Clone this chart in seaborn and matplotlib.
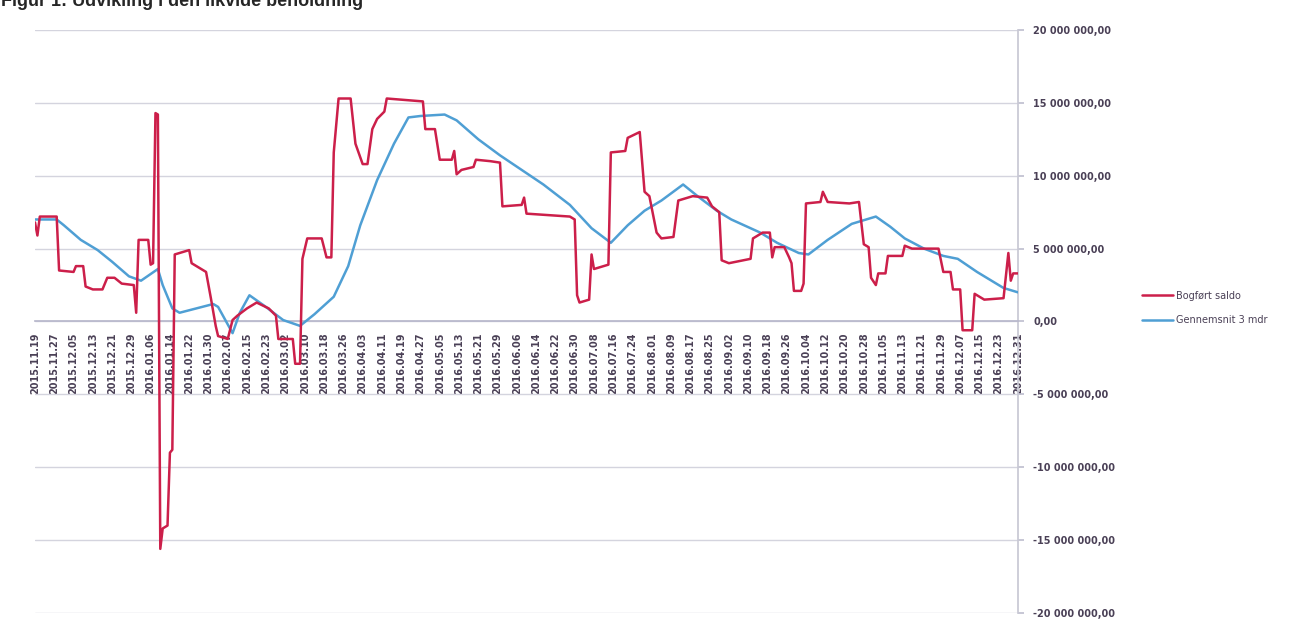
import matplotlib
matplotlib.use("Agg")
import matplotlib.pyplot as plt
import seaborn as sns
import pandas as pd
from matplotlib.ticker import FuncFormatter, MultipleLocator

# category labels on the x axis (every 8th day)
tick_labels = [
    "2015.11.19", "2015.11.27", "2015.12.05", "2015.12.13", "2015.12.21", "2015.12.29",
    "2016.01.06", "2016.01.14", "2016.01.22", "2016.01.30", "2016.02.07", "2016.02.15",
    "2016.02.23", "2016.03.02", "2016.03.10", "2016.03.18", "2016.03.26", "2016.04.03",
    "2016.04.11", "2016.04.19", "2016.04.27", "2016.05.05", "2016.05.13", "2016.05.21",
    "2016.05.29", "2016.06.06", "2016.06.14", "2016.06.22", "2016.06.30", "2016.07.08",
    "2016.07.16", "2016.07.24", "2016.08.01", "2016.08.09", "2016.08.17", "2016.08.25",
    "2016.09.02", "2016.09.10", "2016.09.18", "2016.09.26", "2016.10.04", "2016.10.12",
    "2016.10.20", "2016.10.28", "2016.11.05", "2016.11.13", "2016.11.21", "2016.11.29",
    "2016.12.07", "2016.12.15", "2016.12.23", "2016.12.31",
]

# Bogført saldo: day number since 2015.11.19 and value in mio. kr
saldo_days = [0, 1, 2, 9, 10, 16, 17, 20, 21, 24, 28, 30, 33, 36, 41, 42, 43, 47, 48, 49,
              50, 51, 52, 53, 55, 56, 57, 58, 64, 65, 68, 71, 73, 75, 76, 80, 82, 84, 88, 92,
              97, 100, 101, 107, 108, 110, 111, 113, 119, 121, 123, 124, 126, 131, 133, 136, 138, 140, 142, 145,
              146, 161, 162, 166, 168, 173, 174, 175, 177, 182, 183, 189, 193, 194, 202, 203, 204, 222, 224, 225,
              226, 230, 231, 232, 238, 239, 245, 246, 251, 253, 255, 258, 260, 265, 267, 273, 279, 281, 284, 285,
              288, 297, 298, 302, 305, 306, 307, 311, 313, 314, 315, 318, 319, 320, 326, 327, 329, 338, 342, 344,
              346, 347, 349, 350, 353, 354, 360, 361, 364, 375, 377, 380, 381, 384, 385, 389, 390, 394, 402, 404,
              405, 406, 408]
saldo_mio = [6.8, 5.9, 7.2, 7.2, 3.5, 3.4, 3.8, 3.8, 2.4, 2.2, 2.2, 3.0, 3.0, 2.6, 2.5, 0.6, 5.6, 5.6, 3.9, 4.0,
             14.3, 14.2, -15.6, -14.2, -14.0, -9.0, -8.8, 4.6, 4.9, 4.0, 3.7, 3.4, 1.6, -0.3, -1.0, -1.2, 0.1, 0.4, 0.9, 1.3,
             0.9, 0.4, -1.2, -1.2, -2.9, -2.9, 4.3, 5.7, 5.7, 4.4, 4.4, 11.6, 15.3, 15.3, 12.2, 10.8, 10.8, 13.2, 13.9, 14.4,
             15.3, 15.1, 13.2, 13.2, 11.1, 11.1, 11.7, 10.1, 10.4, 10.6, 11.1, 11.0, 10.9, 7.9, 8.0, 8.5, 7.4, 7.2, 7.0, 1.8,
             1.3, 1.5, 4.6, 3.6, 3.9, 11.6, 11.7, 12.6, 13.0, 8.9, 8.6, 6.1, 5.7, 5.8, 8.3, 8.6, 8.5, 7.9, 7.5, 4.2,
             4.0, 4.3, 5.7, 6.1, 6.1, 4.4, 5.1, 5.1, 4.4, 4.0, 2.1, 2.1, 2.6, 8.1, 8.2, 8.9, 8.2, 8.1, 8.2, 5.3,
             5.1, 3.0, 2.5, 3.3, 3.3, 4.5, 4.5, 5.2, 5.0, 5.0, 3.4, 3.4, 2.2, 2.2, -0.6, -0.6, 1.9, 1.5, 1.6, 4.7,
             2.8, 3.3, 3.3]

# Gennemsnit 3 mdr
snit_days = [0, 9, 12, 19, 26, 32, 39, 44, 51, 53, 57, 60, 67, 74, 76, 82, 85, 89, 95, 103,
             110, 116, 124, 130, 135, 142, 149, 155, 160, 170, 175, 184, 193, 202, 211, 222, 231, 239, 246, 253,
             260, 269, 275, 283, 289, 301, 308, 317, 321, 329, 339, 349, 355, 361, 369, 377, 383, 391, 402, 408]
snit_mio = [7.0, 7.0, 6.6, 5.6, 4.9, 4.1, 3.1, 2.8, 3.6, 2.5, 0.9, 0.6, 0.9, 1.2, 1.0, -0.8, 0.6, 1.8, 1.1, 0.1,
            -0.3, 0.5, 1.7, 3.8, 6.6, 9.7, 12.2, 14.0, 14.1, 14.2, 13.8, 12.5, 11.4, 10.4, 9.4, 8.0, 6.4, 5.4, 6.6, 7.6,
            8.3, 9.4, 8.6, 7.6, 7.0, 6.1, 5.4, 4.7, 4.6, 5.6, 6.7, 7.2, 6.5, 5.7, 5.0, 4.5, 4.3, 3.4, 2.3, 2.0]

red = "#cc1f4a"
blue = "#4f9fd4"
txt = "#4a4056"


def kr(v, pos):
    s = "{:,.2f}".format(v)
    return s.replace(",", " ").replace(".", ",")


sns.set_theme(style="white")
plt.rcParams['font.family'] = ['DejaVu Sans']

fig = plt.figure(figsize=(12.89, 6.29), dpi=100)
ax = fig.add_axes([35 / 1289, 1 - 613 / 629, (1018 - 35) / 1289, (613 - 30) / 629])

saldo = pd.DataFrame({"dag": saldo_days, "kr": [v * 1e6 for v in saldo_mio]})
snit = pd.DataFrame({"dag": snit_days, "kr": [v * 1e6 for v in snit_mio]})

sns.lineplot(data=saldo, x="dag", y="kr", estimator=None, sort=False, color=red,
             linewidth=1.8, ax=ax, label="Bogført saldo", zorder=4)
sns.lineplot(data=snit, x="dag", y="kr", estimator=None, sort=False, color=blue,
             linewidth=1.8, ax=ax, label="Gennemsnit 3 mdr", zorder=3)

# x axis crosses at zero - set this before the tick labels, it resets the ticks
ax.spines["bottom"].set_position(("data", 0))
ax.spines["bottom"].set_color("#b8b8cc")
ax.spines["right"].set_color("#c8c8d4")
ax.spines["left"].set_visible(False)
ax.spines["top"].set_visible(False)

ax.set_xlim(0, 408)
ax.set_ylim(-20e6, 20e6)
ax.set_xticks(range(0, 409, 8))
ax.set_xticklabels(tick_labels, rotation=90, fontsize=7, fontweight="bold", color=txt)
ax.yaxis.tick_right()
ax.yaxis.set_major_locator(MultipleLocator(5e6))
ax.yaxis.set_major_formatter(FuncFormatter(kr))
ax.tick_params(axis="y", labelsize=7, labelcolor=txt, length=4, color="#c0c0d0", pad=7, direction="out")
ax.tick_params(axis="x", length=4, color="#b8b8cc", pad=4, direction="out")
for t in ax.get_yticklabels():
    t.set_fontweight("bold")

ax.grid(axis="y", color="#d4d4de", linewidth=1)
ax.set_axisbelow(True)
ax.set_xlabel("")
ax.set_ylabel("")

handles, labels = ax.get_legend_handles_labels()
ax.legend_.remove()
fig.legend(handles, labels, loc="center left", bbox_to_anchor=(1133 / 1289, 1 - 308 / 629),
           frameon=False, fontsize=7, handlelength=3.2, handletextpad=0.3, labelspacing=1.5,
           labelcolor=txt)

fig.text(0.001, 1 - 2 / 629, "Figur 1: Udvikling i den likvide beholdning", fontsize=13,
         fontweight="bold", va="center", ha="left", family=["Liberation Sans", "DejaVu Sans"])

fig.savefig("out.png", dpi=100)
